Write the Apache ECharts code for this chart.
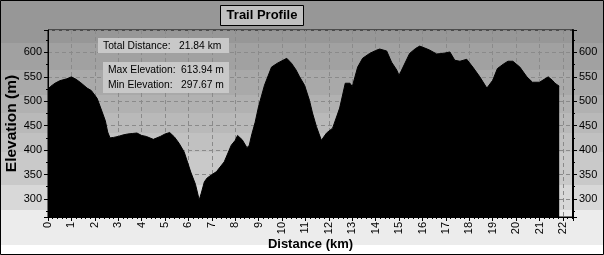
<!DOCTYPE html>
<html><head><meta charset="utf-8">
<script src="https://cdn.jsdelivr.net/npm/echarts@6/dist/echarts.min.js"></script>
<style>html,body{margin:0;padding:0;background:#fff}#c{width:604px;height:255px}</style>
</head><body><div id="c"></div>
<script>
// distance (km)
const distances = [0,0.1,0.3,0.5,0.8,1.0,1.2,1.4,1.67,1.85,2.1,2.3,2.45,2.55,2.65,2.8,3.0,3.2,3.4,3.6,3.8,4.0,4.2,4.5,4.8,5.0,5.2,5.4,5.6,5.82,6.1,6.3,6.46,6.55,6.68,6.8,6.98,7.2,7.53,7.83,8.0,8.1,8.3,8.5,8.6,8.7,8.85,9.0,9.25,9.55,9.8,10.0,10.2,10.4,10.6,10.75,10.96,11.17,11.3,11.47,11.68,11.9,12.16,12.46,12.7,12.9,13.0,13.23,13.44,13.74,14.0,14.17,14.47,14.68,14.9,15.0,15.17,15.45,15.7,15.88,16.1,16.3,16.6,16.87,17.17,17.38,17.6,17.89,18.15,18.45,18.75,18.8,19.0,19.2,19.45,19.65,19.86,20.16,20.46,20.7,21.0,21.2,21.37,21.55,21.66,21.84];
// elevation (m)
const elevations = [525,530,537,542,546,550,545,538,527,522,506,480,460,437,425,426,428,431,433,434,435,430,428,422,428,433,436,427,414,396,355,330,298,312,335,343,349,356,376,410,420,430,421,405,410,431,457,490,533,570,578,583,588,578,564,550,533,502,476,448,420,435,445,486,537,537,530,570,588,598,604,607,603,580,564,553,570,598,608,613,609,605,597,598,601,584,582,586,570,550,527,523,543,567,576,582,582,570,550,539,539,545,550,543,537,531];
const xTicks = [0,1,2,3,4,5,6,7,8,9,10,11,12,13,14,15,16,17,18,19,20,21,22];
const titleText = 'Trail Profile';
const xName = 'Distance (km)';
const yName = 'Elevation (m)';
const infoLabels = ['Total Distance:', 'Max Elevation:', 'Min Elevation:'];
const infoValues = ['21.84 km', '613.94 m', '297.67 m'];

const chart = echarts.init(document.getElementById('c'), null, {renderer: 'canvas'});
const bands = [[0,43,'#979797'],[43,70,'#a1a1a1'],[70,95,'#a9a9a9'],[95,113,'#b1b1b1'],[113,133,'#b9b9b9'],[133,152,'#c1c1c1'],[152,185,'#c9c9c9'],[185,210,'#d8d8d8'],[210,245,'#ececec'],[245,255,'#ffffff']];
const F = 'Liberation Sans, Arial, sans-serif';
const graphics = bands.map(b => ({type:'rect', z:-10, silent:true, shape:{x:0,y:b[0],width:604,height:b[1]-b[0]}, style:{fill:b[2]}}));
graphics.push({type:'rect', z:50, shape:{x:220.5,y:5.5,width:83,height:20}, style:{fill:'#c0c0c0', stroke:'#000', lineWidth:1}});
graphics.push({type:'text', z:51, x:262, y:15.5, style:{text:titleText, font:'bold 13px '+F, fill:'#000', align:'center', verticalAlign:'middle'}});
graphics.push({type:'rect', z:50, shape:{x:98,y:38,width:131,height:15}, style:{fill:'#c8c8c8'}});
graphics.push({type:'rect', z:50, shape:{x:103,y:62,width:126,height:31}, style:{fill:'#c8c8c8'}});
const infoY = [46, 70, 85], infoX = [103, 108, 108], valX = [179, 181, 181];
infoLabels.forEach((t,i) => {
  graphics.push({type:'text', z:51, x:infoX[i], y:infoY[i], style:{text:t, font:'10.3px '+F, fill:'#000', verticalAlign:'middle'}});
  graphics.push({type:'text', z:51, x:valX[i], y:infoY[i], style:{text:infoValues[i], font:'10.3px '+F, fill:'#000', verticalAlign:'middle'}});
});
graphics.push({type:'rect', z:60, shape:{x:0.5,y:0.5,width:603,height:254}, style:{fill:'none', stroke:'#000', lineWidth:1}});

const yCommon = {
  type:'value', min:263, max:646, minInterval:50, maxInterval:50,
  axisLine:{show:true, lineStyle:{color:'#000', width:1}},
  axisTick:{show:true, length:4, lineStyle:{color:'#000'}},
  minorTick:{show:true, splitNumber:2, length:2, lineStyle:{color:'#000'}},
  axisLabel:{color:'#000', fontSize:11, fontFamily:F, margin:6, showMinLabel:false, showMaxLabel:false},
};
chart.setOption({
  animation:false,
  backgroundColor:'transparent',
  graphic:graphics,
  grid:{left:48, right:31, top:30, bottom:38, containLabel:false, outerBoundsMode:'none', show:true, borderColor:'#000', borderWidth:1, backgroundColor:'transparent'},
  xAxis:{
    type:'value', min:0, max:22.43, interval:1,
    name:xName, nameLocation:'middle', nameGap:21, nameMoveOverlap:false,
    nameTextStyle:{fontWeight:'bold', fontSize:13, fontFamily:F, color:'#000'},
    axisLine:{lineStyle:{color:'#000'}},
    axisTick:{length:4, lineStyle:{color:'#000'}},
    minorTick:{show:true, splitNumber:5, length:2, lineStyle:{color:'#000'}},
    axisLabel:{rotate:90, fontSize:11, fontFamily:F, color:'#000', margin:5, showMaxLabel:false,
      formatter:v => xTicks.indexOf(v) >= 0 ? String(v) : ''},
    splitLine:{show:true, lineStyle:{color:'#8a8a8a', type:[4,3], width:1}}
  },
  yAxis:[
    Object.assign({}, yCommon, {position:'left', name:yName, nameLocation:'middle', nameGap:28, nameMoveOverlap:false,
      nameTextStyle:{fontWeight:'bold', fontSize:15.5, fontFamily:F, color:'#000'},
      splitLine:{show:true, lineStyle:{color:'#8a8a8a', type:[4,3], width:1}}}),
    Object.assign({}, yCommon, {position:'right', axisLine:{show:true, lineStyle:{color:'#000', width:2}}, splitLine:{show:false}})
  ],
  series:[{
    type:'line', data:distances.map((d,i)=>[d, elevations[i]]), yAxisIndex:0,
    symbol:'none', smooth:false, z:5,
    lineStyle:{color:'#000', width:1},
    areaStyle:{color:'#000', opacity:1, origin:'start'}
  }]
});
</script></body></html>
